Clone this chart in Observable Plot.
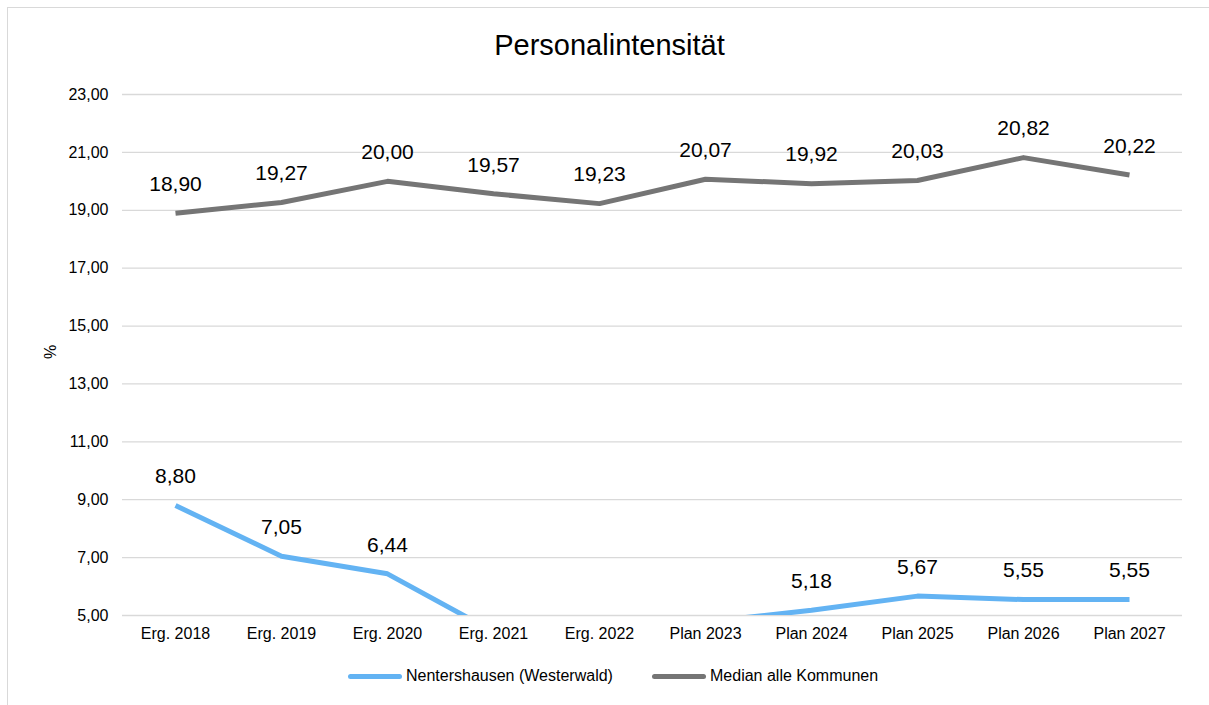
<!DOCTYPE html>
<html><head><meta charset="utf-8">
<script src="https://cdn.jsdelivr.net/npm/d3@7"></script>
<script src="https://cdn.jsdelivr.net/npm/@observablehq/plot@0.6"></script>
<style>
body{margin:0;background:#fff;font-family:"Liberation Sans",Arial,sans-serif;}
#wrap{position:relative;width:1209px;height:705px;overflow:hidden;}
#frame{position:absolute;left:7px;top:7px;width:1220px;height:720px;border-left:1.5px solid #d9d9d9;border-top:1.5px solid #d9d9d9;}
#title{position:absolute;left:0;width:1219px;top:27px;text-align:center;font-size:29px;line-height:36px;color:#000;}
#chart{position:absolute;left:0;top:74px;}
#legend{position:absolute;top:666px;left:0;width:1209px;font-size:16px;line-height:20px;color:#000;}
.li{position:absolute;display:flex;align-items:center;}
.sw{width:54px;height:5px;border-radius:3px;margin-right:4px;}
</style></head>
<body><div id="wrap"><div id="frame"></div><div id="title">Personalintensität</div><div id="chart"></div><div id="legend"></div></div>
<script>
const categories = ["Erg. 2018","Erg. 2019","Erg. 2020","Erg. 2021","Erg. 2022","Plan 2023","Plan 2024","Plan 2025","Plan 2026","Plan 2027"];
const nentershausen = [8.80, 7.05, 6.44, 4.44, 4.50, 4.78, 5.18, 5.67, 5.55, 5.55];
const median = [18.90, 19.27, 20.00, 19.57, 19.23, 20.07, 19.92, 20.03, 20.82, 20.22];
const yTicks = [5,7,9,11,13,15,17,19,21,23];
const seriesNames = ["Nentershausen (Westerwald)","Median alle Kommunen"];
const colors = ["#63b3f3","#757575"];

const fmt = v => d3.format(".2f")(v).replace(".", ",");
const rows = [];
categories.forEach((c,i)=>{
  rows.push({cat:c, value:nentershausen[i], series:seriesNames[0]});
  rows.push({cat:c, value:median[i], series:seriesNames[1]});
});
const yMin = 5, yMax = 23;
const labelRows = rows.filter(d => d.value >= yMin);

const plot = Plot.plot({
  width:1209, height:581,
  marginLeft:122, marginRight:27, marginTop:20, marginBottom:40,
  style:{fontFamily:"Liberation Sans, Arial, sans-serif", fontSize:"16px", color:"#000", background:"transparent"},
  x:{type:"band", domain:categories, label:null, tickSize:0, tickPadding:12, padding:0},
  y:{domain:[yMin,yMax], ticks:yTicks, tickFormat:fmt, label:null, tickSize:0, tickPadding:14},
  color:{domain:seriesNames, range:colors},
  marks:[
    Plot.gridY(yTicks, {stroke:"#d9d9d9", strokeOpacity:1, strokeWidth:1.3}),
    Plot.line(rows, {x:"cat", y:"value", z:"series", stroke:"series", strokeWidth:5, clip:true, strokeLinejoin:"round", strokeLinecap:"butt"}),
    Plot.text(labelRows, {x:"cat", y:"value", text:d=>fmt(d.value), dy:-29, fontSize:21, fill:"#000"}),
    Plot.text(["%"], {frameAnchor:"left", dx:-72, dy:4, rotate:-90, fontSize:16, fill:"#000"})
  ]
});
document.getElementById("chart").appendChild(plot);

const legend = document.getElementById("legend");
const lefts = [348, 652];
seriesNames.forEach((n,i)=>{
  const d = document.createElement("div"); d.className="li"; d.style.left=lefts[i]+"px";
  d.innerHTML = `<div class="sw" style="background:${colors[i]}"></div><span>${n}</span>`;
  legend.appendChild(d);
});
</script></body></html>
